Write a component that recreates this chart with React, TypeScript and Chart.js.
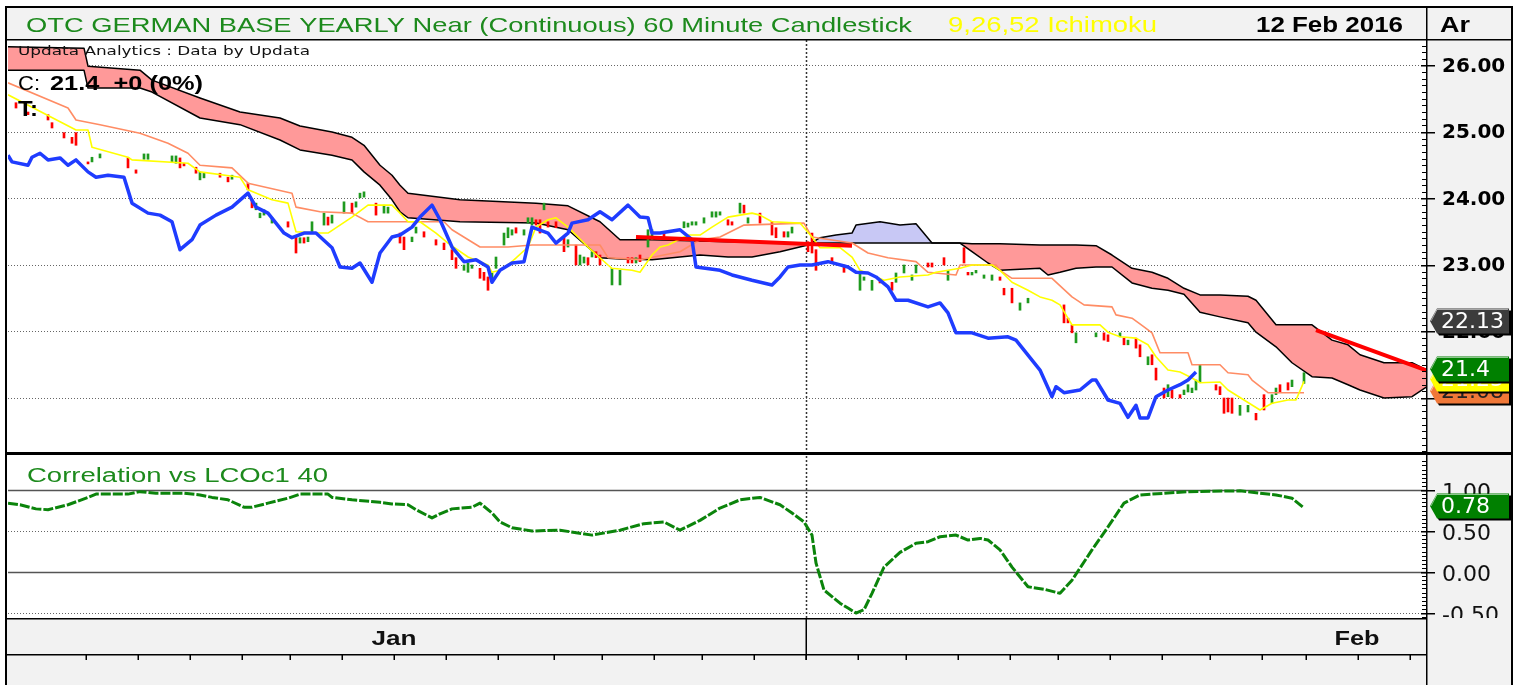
import React, { useEffect, useRef } from 'react';
import { Chart, registerables } from 'chart.js';

Chart.register(...registerables);

// ---------------- texts ----------------
const TITLE = 'OTC GERMAN BASE YEARLY Near (Continuous) 60 Minute Candlestick';
const STUDY = '9,26,52 Ichimoku';
const DATE_TEXT = '12 Feb 2016';
const AXIS_HEAD = 'Ar';
const SOURCE = 'Updata Analytics : Data by Updata';
const CLOSE_LABEL = 'C:';
const CLOSE_TEXT = '21.4  +0 (0%)';
const TIME_LABEL = 'T:';
const PANEL2_TITLE = 'Correlation vs LCOc1 40';

// ---------------- axes (x = hourly bar index) ----------------
const X_MIN = 0;
const X_MAX = 354.75;
const PRICE_MIN = 20.143;
const PRICE_MAX = 26.383;
const CORR_MIN = -0.573;
const CORR_MAX = 1.427;
const priceTicks = [21, 22, 23, 24, 25, 26];
const corrTicks = [1, 0.5, 0, -0.5];
const dayTicks = [19.5, 32.5, 45.5, 58.5, 70.5, 83.5, 96.5, 109.5, 122.5, 136.5, 148.5, 161.5, 173.5, 186.5, 199.5, 212.5, 224.5, 237.5, 250.5, 262.5, 275.5, 288.5, 300.5, 313.5, 324.5, 337.5, 350.5];
const monthDivider = 199.5;
const monthLabels: [string, number][] = [['Jan', 96.5], ['Feb', 337.25]];

// ---------------- Ichimoku cloud: [bar, senkouA, senkouB] ----------------
const cloud: [number, number, number][] = [
  [0, 25.93, 26.28], [19, 25.93, 26.26], [20, 25.66, 25.99], [33, 25.66, 25.93], [36, 25.60, 25.78],
  [48, 25.21, 25.51], [58, 25.11, 25.30], [68, 24.88, 25.21], [73, 24.73, 25.09], [81, 24.65, 25.00],
  [86, 24.58, 24.92], [89, 24.40, 24.80], [93, 24.20, 24.50], [96, 23.98, 24.35], [98, 23.80, 24.20],
  [100, 23.71, 24.08], [113, 23.65, 23.98], [132, 23.63, 23.93], [140, 23.53, 23.89], [148, 23.11, 23.65],
  [153, 23.09, 23.38], [161, 23.08, 23.38], [173, 23.15, 23.36], [180, 23.12, 23.35], [186, 23.12, 23.35],
  [193, 23.20, 23.33], [200, 23.30, 23.33], [203, 23.41, 23.33], [207, 23.45, 23.33], [211, 23.48, 23.33],
  [212, 23.60, 23.33], [218, 23.65, 23.33], [223, 23.60, 23.33], [227, 23.62, 23.33], [231, 23.33, 23.33],
  [238, 23.33, 23.33], [241, 23.20, 23.32], [245, 23.03, 23.32], [248, 22.92, 23.32], [258, 22.95, 23.30],
  [260, 22.85, 23.30], [263, 22.89, 23.30], [267, 22.95, 23.30], [272, 22.97, 23.29], [276, 22.97, 23.15],
  [281, 22.73, 22.95], [286, 22.65, 22.89], [290, 22.62, 22.80], [294, 22.56, 22.65], [298, 22.29, 22.55],
  [303, 22.22, 22.55], [310, 22.13, 22.53], [312, 21.99, 22.47], [317, 21.77, 22.10], [321, 21.53, 22.10],
  [326, 21.32, 22.10], [331, 21.30, 21.87], [335, 21.20, 21.80], [338, 21.12, 21.65], [344, 21.00, 21.53],
  [351, 21.02, 21.53], [354.75, 21.17, 21.42],
];

// ---------------- Tenkan (9) ----------------
const tenkan: [number, number][] = [
  [0, 25.56], [17, 25.03], [20, 25.03], [21, 24.77], [30, 24.62], [31, 24.58], [45, 24.53], [48, 24.40],
  [58, 24.32], [60, 24.13], [66, 23.98], [70, 23.93], [72, 23.50], [78, 23.48], [80, 23.48], [86, 23.72],
  [90, 23.90], [96, 23.90], [98, 23.78], [100, 23.65], [103, 23.65], [107, 23.48], [110, 23.33], [115, 23.12],
  [120, 23.00], [121, 22.89], [123, 22.92], [126, 23.05], [130, 23.27], [132, 23.57], [135, 23.68], [137, 23.71],
  [140, 23.57], [145, 23.27], [150, 23.00], [151, 22.95], [156, 22.92], [158, 22.89], [161, 23.15], [163, 23.27],
  [165, 23.30], [170, 23.45], [173, 23.45], [176, 23.57], [180, 23.72], [186, 23.78], [188, 23.75], [191, 23.65],
  [198, 23.63], [201, 23.42], [203, 23.26], [208, 23.26], [211, 23.12], [213, 22.92], [219, 22.77], [223, 22.82],
  [230, 22.85], [232, 22.89], [235, 22.92], [238, 22.95], [241, 23.00], [246, 23.00], [248, 22.92], [251, 22.74],
  [255, 22.62], [258, 22.52], [261, 22.47], [263, 22.40], [266, 22.10], [273, 22.10], [275, 21.99], [278, 21.92],
  [282, 21.90], [285, 21.80], [287, 21.62], [290, 21.42], [293, 21.39], [296, 21.30], [298, 21.23], [303, 21.24],
  [305, 21.12], [309, 20.97], [313, 20.82], [316, 20.92], [320, 20.97], [322, 20.97], [324, 21.25],
];

// ---------------- Kijun (26) ----------------
const kijun: [number, number][] = [
  [0, 25.74], [15, 25.36], [17, 25.18], [23, 25.11], [33, 24.98], [40, 24.83], [45, 24.68], [48, 24.50],
  [56, 24.46], [60, 24.23], [71, 24.08], [72, 23.87], [78, 23.80], [86, 23.78], [90, 23.65], [109, 23.65],
  [111, 23.53], [118, 23.27], [125, 23.27], [131, 23.30], [148, 23.30], [150, 23.11], [158, 23.08], [168, 23.20],
  [173, 23.38], [178, 23.42], [184, 23.60], [199, 23.63], [201, 23.42], [211, 23.33], [215, 23.18], [220, 23.11],
  [227, 23.05], [230, 22.89], [237, 22.85], [238, 23.00], [247, 23.00], [248, 22.92], [251, 22.80], [261, 22.80],
  [266, 22.52], [269, 22.40], [276, 22.37], [277, 22.25], [281, 22.20], [284, 22.07], [286, 21.98], [288, 21.68],
  [295, 21.68], [296, 21.50], [303, 21.50], [305, 21.38], [310, 21.35], [311, 21.27], [315, 21.08], [324, 21.08],
];

// ---------------- Chikou (lagging close) ----------------
const chikou: [number, number][] = [
  [0, 24.65], [1, 24.55], [5, 24.50], [6, 24.62], [8, 24.68], [10, 24.58], [13, 24.61], [15, 24.50], [17, 24.58],
  [20, 24.40], [22, 24.32], [25, 24.35], [29, 24.32], [31, 23.93], [35, 23.78], [38, 23.75], [41, 23.65], [43, 23.23],
  [46, 23.38], [48, 23.60], [52, 23.75], [56, 23.87], [60, 24.08], [62, 23.87], [65, 23.78], [67, 23.63], [69, 23.48],
  [71, 23.41], [74, 23.48], [77, 23.48], [81, 23.26], [83, 22.97], [86, 22.95], [88, 23.03], [91, 22.74], [93, 23.18],
  [96, 23.42], [98, 23.45], [101, 23.57], [103, 23.72], [106, 23.90], [108, 23.68], [111, 23.27], [114, 23.05],
  [117, 23.08], [120, 22.97], [121, 22.74], [123, 22.92], [126, 23.03], [129, 23.05], [131, 23.57], [135, 23.48],
  [137, 23.33], [140, 23.48], [141, 23.63], [145, 23.68], [148, 23.80], [151, 23.68], [155, 23.90], [158, 23.72],
  [160, 23.71], [161, 23.48], [163, 23.48], [168, 23.53], [171, 23.38], [172, 22.97], [178, 22.92], [181, 22.85],
  [186, 22.77], [191, 22.70], [193, 22.82], [195, 22.97], [198, 23.00], [201, 23.00], [205, 23.05], [210, 22.97],
  [212, 22.89], [215, 22.88], [217, 22.82], [220, 22.67], [222, 22.47], [225, 22.47], [230, 22.37], [233, 22.43],
  [235, 22.28], [237, 21.98], [241, 21.98], [245, 21.90], [250, 21.92], [252, 21.87], [256, 21.57], [258, 21.42],
  [261, 21.02], [262, 21.17], [264, 21.08], [268, 21.12], [271, 21.27], [272, 21.27], [275, 20.97], [278, 20.92],
  [280, 20.71], [282, 20.89], [283, 20.70], [285, 20.70], [287, 21.02], [290, 21.12], [293, 21.20], [295, 21.27],
  [297, 21.39],
];

// ---------------- 60-minute candles: [bar, high, low, up(1)/down(0)] ----------------
const candles: [number, number, number, number][] = [
  [2, 25.44, 25.36, 0], [5, 25.30, 25.26, 0], [10, 25.26, 25.18, 0], [11, 25.14, 25.06, 0], [14, 24.99, 24.91, 0],
  [16, 24.92, 24.83, 0], [17, 24.99, 24.80, 0], [20, 24.55, 24.52, 0], [21, 24.62, 24.55, 1], [23, 24.67, 24.61, 1],
  [30, 24.61, 24.46, 0], [32, 24.43, 24.38, 0], [34, 24.67, 24.59, 1], [35, 24.67, 24.59, 1], [41, 24.64, 24.55, 1],
  [42, 24.64, 24.53, 1], [43, 24.61, 24.46, 0], [44, 24.53, 24.49, 0], [47, 24.47, 24.38, 0], [48, 24.40, 24.28, 1],
  [49, 24.38, 24.31, 1], [53, 24.38, 24.32, 0], [55, 24.32, 24.25, 0], [56, 24.35, 24.29, 1], [60, 24.23, 24.13, 0],
  [61, 23.98, 23.86, 0], [62, 23.93, 23.83, 1], [63, 23.78, 23.71, 1], [64, 23.83, 23.75, 1], [66, 23.71, 23.63, 1],
  [70, 23.65, 23.57, 0], [72, 23.42, 23.18, 0], [73, 23.41, 23.33, 1], [74, 23.41, 23.33, 0], [75, 23.42, 23.35, 1],
  [76, 23.65, 23.50, 1], [79, 23.78, 23.60, 1], [80, 23.72, 23.60, 0], [81, 23.75, 23.63, 1], [84, 23.95, 23.78, 1],
  [86, 23.93, 23.78, 0], [87, 23.95, 23.87, 1], [88, 24.08, 24.01, 1], [89, 24.10, 24.02, 1], [92, 23.93, 23.75, 0],
  [94, 23.90, 23.78, 1], [95, 23.87, 23.78, 1], [98, 23.48, 23.33, 0], [99, 23.42, 23.23, 0], [101, 23.42, 23.35, 1],
  [102, 23.57, 23.48, 1], [104, 23.50, 23.42, 0], [107, 23.38, 23.30, 0], [109, 23.33, 23.23, 0], [111, 23.23, 23.08, 0],
  [112, 23.11, 22.95, 0], [114, 23.00, 22.92, 1], [115, 23.03, 22.89, 1], [116, 23.00, 22.95, 1], [118, 22.95, 22.80, 0],
  [119, 22.89, 22.77, 0], [120, 22.82, 22.62, 0], [121, 22.88, 22.77, 1], [122, 23.12, 22.95, 1], [124, 23.48, 23.30, 1],
  [125, 23.56, 23.41, 1], [126, 23.53, 23.45, 1], [127, 23.56, 23.48, 0], [129, 23.53, 23.45, 1], [130, 23.71, 23.63, 1],
  [131, 23.71, 23.60, 1], [132, 23.68, 23.60, 0], [133, 23.68, 23.48, 0], [134, 23.93, 23.83, 1], [135, 23.65, 23.57, 0],
  [137, 23.65, 23.56, 0], [139, 23.41, 23.20, 0], [140, 23.38, 23.27, 1], [142, 23.30, 23.00, 0], [143, 23.15, 23.00, 1],
  [144, 23.12, 23.03, 1], [145, 23.11, 23.00, 0], [146, 23.20, 23.12, 1], [147, 23.20, 23.11, 0], [148, 23.15, 23.00, 0],
  [151, 22.95, 22.70, 1], [153, 22.92, 22.70, 1], [155, 23.11, 23.03, 0], [156, 23.11, 23.03, 0], [157, 23.11, 23.03, 1],
  [158, 23.15, 23.05, 0], [160, 23.53, 23.27, 1], [161, 23.53, 23.38, 1], [164, 23.50, 23.42, 0], [169, 23.65, 23.56, 1],
  [170, 23.63, 23.57, 1], [171, 23.65, 23.60, 1], [172, 23.65, 23.60, 1], [174, 23.71, 23.63, 1], [176, 23.80, 23.72, 1],
  [177, 23.80, 23.72, 1], [178, 23.80, 23.75, 1], [180, 23.68, 23.60, 0], [181, 23.65, 23.60, 0], [183, 23.93, 23.78, 1],
  [184, 23.90, 23.78, 0], [185, 23.71, 23.63, 1], [188, 23.78, 23.63, 0], [191, 23.65, 23.45, 0], [192, 23.56, 23.41, 0],
  [194, 23.50, 23.42, 0], [195, 23.50, 23.42, 1], [196, 23.57, 23.48, 1], [200, 23.35, 23.20, 0], [201, 23.48, 23.18, 0],
  [202, 23.23, 22.92, 0], [206, 23.11, 23.03, 0], [209, 23.00, 22.89, 0], [213, 22.88, 22.62, 1], [214, 22.82, 22.77, 1],
  [216, 22.77, 22.62, 1], [218, 22.77, 22.73, 0], [221, 22.74, 22.62, 0], [222, 22.88, 22.74, 1], [224, 23.00, 22.88, 1],
  [226, 22.85, 22.77, 1], [227, 23.00, 22.88, 1], [230, 23.03, 22.97, 0], [231, 23.03, 22.97, 0], [234, 23.11, 23.00, 0],
  [235, 22.92, 22.77, 1], [239, 23.26, 23.03, 0], [240, 22.89, 22.85, 0], [241, 22.89, 22.85, 1], [242, 22.92, 22.88, 1],
  [244, 22.85, 22.80, 1], [246, 22.85, 22.77, 1], [248, 22.82, 22.77, 0], [249, 22.65, 22.55, 0], [251, 22.65, 22.43, 0],
  [253, 22.43, 22.32, 1], [255, 22.50, 22.43, 1], [264, 22.40, 22.13, 0], [265, 22.20, 22.13, 0], [266, 22.10, 21.98, 0],
  [267, 21.98, 21.83, 1], [272, 21.98, 21.92, 1], [274, 21.98, 21.87, 0], [275, 21.95, 21.85, 0], [278, 21.98, 21.92, 1],
  [279, 21.90, 21.80, 0], [280, 21.87, 21.80, 1], [282, 21.90, 21.75, 0], [283, 21.80, 21.62, 0], [285, 21.62, 21.50, 1],
  [286, 21.65, 21.50, 0], [287, 21.45, 21.27, 0], [289, 21.15, 21.00, 0], [290, 21.20, 21.02, 1], [291, 21.12, 21.00, 0],
  [293, 21.05, 21.00, 0], [294, 21.12, 21.05, 1], [295, 21.20, 21.09, 1], [296, 21.15, 21.08, 1], [297, 21.27, 21.12, 1],
  [298, 21.50, 21.23, 1], [302, 21.20, 21.12, 0], [303, 21.17, 21.05, 0], [304, 21.00, 20.77, 0], [305, 21.00, 20.79, 0],
  [306, 21.00, 20.77, 0], [308, 20.89, 20.74, 1], [310, 20.89, 20.79, 1], [312, 20.77, 20.67, 0], [314, 21.05, 20.82, 0],
  [316, 21.05, 20.92, 1], [317, 21.15, 21.05, 1], [318, 21.20, 21.09, 0], [320, 21.23, 21.12, 0], [321, 21.27, 21.17, 1],
  [324, 21.38, 21.22, 1],
];

// ---------------- trend lines ----------------
const trendA: [number, number][] = [[157, 23.42], [211, 23.29]];
const trendB: [number, number][] = [[327, 22.02], [354.75, 21.41]];

// ---------------- Correlation vs LCOc1 (40) ----------------
const corr: [number, number][] = [
  [0, 0.84], [3, 0.82], [7, 0.77], [10, 0.76], [15, 0.82], [20, 0.91], [22, 0.95], [30, 0.95], [33, 0.98], [37, 0.96],
  [44, 0.96], [48, 0.94], [51, 0.91], [55, 0.88], [59, 0.79], [61, 0.79], [65, 0.84], [70, 0.90], [73, 0.95], [80, 0.95],
  [81, 0.91], [86, 0.88], [93, 0.85], [96, 0.83], [100, 0.82], [102, 0.76], [106, 0.66], [108, 0.71], [111, 0.77], [116, 0.79],
  [118, 0.84], [121, 0.72], [123, 0.61], [126, 0.54], [131, 0.50], [138, 0.51], [146, 0.45], [153, 0.51], [159, 0.59], [164, 0.61],
  [168, 0.51], [173, 0.63], [178, 0.78], [183, 0.88], [188, 0.91], [193, 0.82], [196, 0.72], [199, 0.61], [201, 0.45], [202, 0.11],
  [204, -0.22], [206, -0.30], [208, -0.38], [210, -0.44], [212, -0.50], [214, -0.46], [216, -0.26], [219, 0.06], [223, 0.24], [227, 0.35],
  [230, 0.37], [233, 0.43], [237, 0.45], [240, 0.39], [243, 0.41], [245, 0.39], [248, 0.27], [251, 0.06], [255, -0.18], [259, -0.21],
  [263, -0.26], [266, -0.10], [271, 0.27], [275, 0.55], [279, 0.84], [283, 0.94], [289, 0.96], [295, 0.98], [308, 0.99], [313, 0.96],
  [317, 0.94], [321, 0.90], [324, 0.78],
];

// ---------------- value tags on the right axis ----------------
const priceTags: [number, string, string, string][] = [
  [21.08, '21.08', '#f07838', '#222222'],
  [21.25, '21.25', '#ffff00', '#ffffff'],
  [21.4, '21.4', '#008000', '#ffffff'],
  [22.13, '22.13', '#3c3c3c', '#ffffff'],
];
const corrTags: [number, string, string, string][] = [[0.78, '0.78', '#008000', '#ffffff']];

// ---------------- styles ----------------
const PANEL_BG = '#f2f2f2';
const FRAME_L = 6;
const FRAME_T = 7;
const FRAME_R = 1512;
const GRID = '#666666';
const UP = '#1f9a1f';
const DOWN = '#ff0000';

const toXY = (pts: [number, number][]) => pts.map(([x, y]) => ({ x, y }));

function fitText(ctx: any, text: string, x: number, y: number, width: number, font: string, color: string, center = false) {
  ctx.save();
  ctx.font = font;
  ctx.fillStyle = color;
  ctx.textBaseline = 'middle';
  ctx.textAlign = 'left';
  const m = ctx.measureText(text).width || 1;
  ctx.translate(center ? x - width / 2 : x, y);
  ctx.scale(width / m, 1);
  ctx.fillText(text, 0, 0);
  ctx.restore();
}

function plainText(ctx: any, text: string, x: number, y: number, font: string, color: string) {
  ctx.save();
  ctx.font = font;
  ctx.fillStyle = color;
  ctx.textBaseline = 'middle';
  ctx.textAlign = 'left';
  ctx.fillText(text, x, y);
  ctx.restore();
}

function drawTag(ctx: any, left: number, right: number, cy: number, fill: string, textColor: string, text: string) {
  const tip = left + 3;
  const body = left + 10;
  const h = 25;
  const path = (dx: number, dy: number) => {
    ctx.beginPath();
    ctx.moveTo(tip + dx, cy + dy);
    ctx.lineTo(body + dx, cy - h / 2 + dy);
    ctx.lineTo(right + dx, cy - h / 2 + dy);
    ctx.lineTo(right + dx, cy + h / 2 + dy);
    ctx.lineTo(body + dx, cy + h / 2 + dy);
    ctx.closePath();
  };
  ctx.save();
  ctx.fillStyle = '#000000';
  path(2, 2);
  ctx.fill();
  ctx.fillStyle = fill;
  path(0, 0);
  ctx.fill();
  ctx.strokeStyle = 'rgba(255,255,255,0.55)';
  ctx.lineWidth = 1;
  ctx.beginPath();
  ctx.moveTo(tip + 1, cy);
  ctx.lineTo(body, cy - h / 2 + 1);
  ctx.lineTo(right - 1, cy - h / 2 + 1);
  ctx.stroke();
  ctx.restore();
  plainText(ctx, text, body + 4, cy + 1, '22px "DejaVu Sans"', textColor);
}

const framePlugin = {
  id: 'updataFrame',
  beforeDraw(chart: any) {
    const { ctx, chartArea: ca } = chart;
    const H = chart.height;
    ctx.save();
    ctx.fillStyle = '#ffffff';
    ctx.fillRect(0, 0, chart.width, H);
    ctx.fillStyle = PANEL_BG;
    ctx.fillRect(FRAME_L, FRAME_T, FRAME_R - FRAME_L, ca.top - FRAME_T);
    ctx.fillRect(ca.right, ca.top, FRAME_R - ca.right, H - ca.top);
    ctx.fillRect(FRAME_L, ca.bottom, ca.right - FRAME_L, H - ca.bottom);
    ctx.restore();
  },
  beforeDatasetsDraw(chart: any) {
    const { ctx, chartArea: ca, scales } = chart;
    const { x, y, yc } = scales;
    const hline = (py: number) => {
      ctx.beginPath();
      ctx.moveTo(ca.left, py);
      ctx.lineTo(ca.right, py);
      ctx.stroke();
    };
    ctx.save();
    ctx.strokeStyle = GRID;
    ctx.lineWidth = 1;
    ctx.setLineDash([1, 2]);
    for (const v of priceTicks) hline(Math.round(y.getPixelForValue(v)) + 0.5);
    for (const v of corrTicks) {
      const solid = v === 0 || v === 1;
      ctx.setLineDash(solid ? [] : [1, 2]);
      ctx.strokeStyle = solid ? '#555555' : GRID;
      ctx.lineWidth = solid ? 1.5 : 1;
      hline(Math.round(yc.getPixelForValue(v)) + 0.5);
    }
    const mx = Math.round(x.getPixelForValue(monthDivider)) + 0.5;
    ctx.setLineDash([2, 2]);
    ctx.strokeStyle = '#333333';
    ctx.lineWidth = 1.5;
    ctx.beginPath();
    ctx.moveTo(mx, ca.top);
    ctx.lineTo(mx, ca.bottom);
    ctx.stroke();
    ctx.restore();
  },
  afterDraw(chart: any) {
    const { ctx, chartArea: ca, scales } = chart;
    const { x, y, yc } = scales;
    const H = chart.height;
    const black = '#000000';

    // texts inside the price panel
    fitText(ctx, SOURCE, 18, 52, 292, '13px "DejaVu Sans"', '#111111');
    fitText(ctx, CLOSE_LABEL, 18, 84, 22, '21px "Liberation Sans"', black);
    fitText(ctx, CLOSE_TEXT, 50, 84, 153, 'bold 21px "Liberation Sans"', black);
    fitText(ctx, TIME_LABEL, 18, 110, 20, 'bold 22px "Liberation Sans"', black);
    fitText(ctx, PANEL2_TITLE, 27, 476, 301, '20px "Liberation Sans"', '#1d8a1d');

    // title bar
    fitText(ctx, TITLE, 26, 26, 886, '21px "Liberation Sans"', '#1d8a1d');
    fitText(ctx, STUDY, 948, 26, 209, '22px "Liberation Sans"', '#ffff00');
    fitText(ctx, DATE_TEXT, 1256, 26, 147, 'bold 22px "Liberation Sans"', black);
    fitText(ctx, AXIS_HEAD, 1440, 26, 30, 'bold 22px "Liberation Sans"', black);

    ctx.save();
    ctx.fillStyle = black;
    // outer frame
    ctx.fillRect(FRAME_L - 1, FRAME_T - 1, FRAME_R - FRAME_L + 2, 2);
    ctx.fillRect(FRAME_L - 1, FRAME_T - 1, 2, H);
    ctx.fillRect(FRAME_R - 1, FRAME_T - 1, 2, H);
    // title bar bottom, axis column divider
    ctx.fillRect(FRAME_L, ca.top - 1, FRAME_R - FRAME_L, 1.5);
    ctx.fillRect(ca.right - 1, FRAME_T, 1.5, H);
    // panel separator
    ctx.fillRect(FRAME_L, y.bottom - 3, FRAME_R - FRAME_L, 3);
    // lower panel bottom, date axis line
    ctx.fillRect(FRAME_L, yc.bottom - 1, ca.right - FRAME_L, 1.5);
    ctx.fillRect(FRAME_L, yc.bottom + 35, ca.right - FRAME_L, 1.5);
    // day ticks
    for (const d of dayTicks) {
      const px = Math.round(x.getPixelForValue(d));
      ctx.fillRect(px - 0.5, yc.bottom + 35, 1.5, 6);
    }
    const mx = Math.round(x.getPixelForValue(monthDivider));
    ctx.fillRect(mx - 0.5, yc.bottom, 1.5, 41);

    // price axis ticks
    for (let v = Math.ceil(PRICE_MIN * 10) / 10; v <= PRICE_MAX; v += 0.1) {
      const py = Math.round(y.getPixelForValue(v));
      ctx.fillRect(ca.right - 5, py, 4, 1);
    }
    for (const v of priceTicks) {
      const py = Math.round(y.getPixelForValue(v));
      ctx.fillRect(ca.right - 6, py, 14, 1.5);
    }
    for (let v = -0.55; v <= CORR_MAX; v += 0.05) {
      const py = Math.round(yc.getPixelForValue(v));
      if (py < yc.bottom - 1 && py > yc.top + 4) ctx.fillRect(ca.right - 5, py, 4, 1);
    }
    for (const v of corrTicks) {
      const py = Math.round(yc.getPixelForValue(v));
      ctx.fillRect(ca.right - 6, py, 14, 1.5);
    }
    ctx.restore();

    // price labels
    for (const v of priceTicks) {
      plainText(ctx, v.toFixed(2), ca.right + 15, y.getPixelForValue(v) + 1, 'bold 20px "DejaVu Sans"', black);
    }
    // correlation labels (clipped at the panel bottom)
    ctx.save();
    ctx.beginPath();
    ctx.rect(ca.right, yc.top, FRAME_R - ca.right, yc.bottom - yc.top - 1);
    ctx.clip();
    for (const v of corrTicks) {
      plainText(ctx, v.toFixed(2), ca.right + 15, yc.getPixelForValue(v) + 3, '22px "DejaVu Sans"', '#111111');
    }
    ctx.restore();

    // month labels
    for (const [lab, at] of monthLabels) {
      fitText(ctx, lab, x.getPixelForValue(at), yc.bottom + 20, 45, 'bold 20px "Liberation Sans"', '#111111', true);
    }

    // value tags
    for (const [v, t, f, c] of priceTags) drawTag(ctx, ca.right, FRAME_R - 3, Math.round(y.getPixelForValue(v)) - 2, f, c, t);
    for (const [v, t, f, c] of corrTags) drawTag(ctx, ca.right, FRAME_R - 3, Math.round(yc.getPixelForValue(v)) - 2, f, c, t);
  },
};

export default function App() {
  const ref = useRef<HTMLCanvasElement>(null);
  useEffect(() => {
    const canvas = ref.current;
    if (!canvas) return;
    const line = (label: string, pts: [number, number][], color: string, width: number, order: number, axis = 'y') => ({
      type: 'line' as const,
      label,
      data: toXY(pts),
      borderColor: color,
      borderWidth: width,
      pointRadius: 0,
      tension: 0,
      fill: false,
      order,
      yAxisID: axis,
      borderJoinStyle: 'round' as const,
      borderCapStyle: 'butt' as const,
    });
    const chart = new Chart(canvas, {
      type: 'line',
      data: {
        datasets: [
          { ...line('Senkou B', cloud.map(([b, , sb]) => [b, sb] as [number, number]), '#000000', 1.5, 9) },
          {
            ...line('Senkou A', cloud.map(([b, sa]) => [b, sa] as [number, number]), '#000000', 1.5, 10),
            fill: { target: 0, above: '#c8c8f5', below: '#ff9999' },
          },
          {
            type: 'bar',
            label: 'Candles',
            data: candles.map(([b, hi, lo]) => ({ x: b, y: [lo, hi] })),
            backgroundColor: candles.map((c) => (c[3] ? UP : DOWN)),
            borderWidth: 0,
            barThickness: 2,
            order: 8,
            yAxisID: 'y',
          } as any,
          line('Kijun', kijun, '#ff8c64', 1.6, 7),
          line('Tenkan', tenkan, '#ffff00', 1.6, 6),
          line('Chikou', chikou, '#1f3cff', 3.5, 5),
          line('Trend 1', trendA, '#ff0000', 4, 2),
          line('Trend 2', trendB, '#ff0000', 4, 2),
          { ...line('Correlation', corr, '#0b840b', 3, 3, 'yc'), borderDash: [10, 2] },
        ] as any,
      },
      options: {
        responsive: false,
        devicePixelRatio: 1,
        animation: false,
        events: [],
        layout: { padding: { left: 8, top: 40, right: 93, bottom: 66 } },
        plugins: { legend: { display: false }, tooltip: { enabled: false } },
        scales: {
          x: { type: 'linear', min: X_MIN, max: X_MAX, offset: false, display: false, grid: { offset: false } },
          y: {
            type: 'linear', position: 'right', min: PRICE_MIN, max: PRICE_MAX, display: false,
            stack: 'panes', stackWeight: 415, weight: 0,
          },
          yc: {
            type: 'linear', position: 'right', min: CORR_MIN, max: CORR_MAX, display: false,
            stack: 'panes', stackWeight: 164, weight: 1,
          },
        } as any,
      },
      plugins: [framePlugin],
    });
    return () => chart.destroy();
  }, []);
  return (
    <div style={{ position: 'absolute', left: 0, top: 0, width: 1520, height: 685 }}>
      <canvas ref={ref} width={1520} height={685} style={{ display: 'block', width: 1520, height: 685 }} />
    </div>
  );
}
